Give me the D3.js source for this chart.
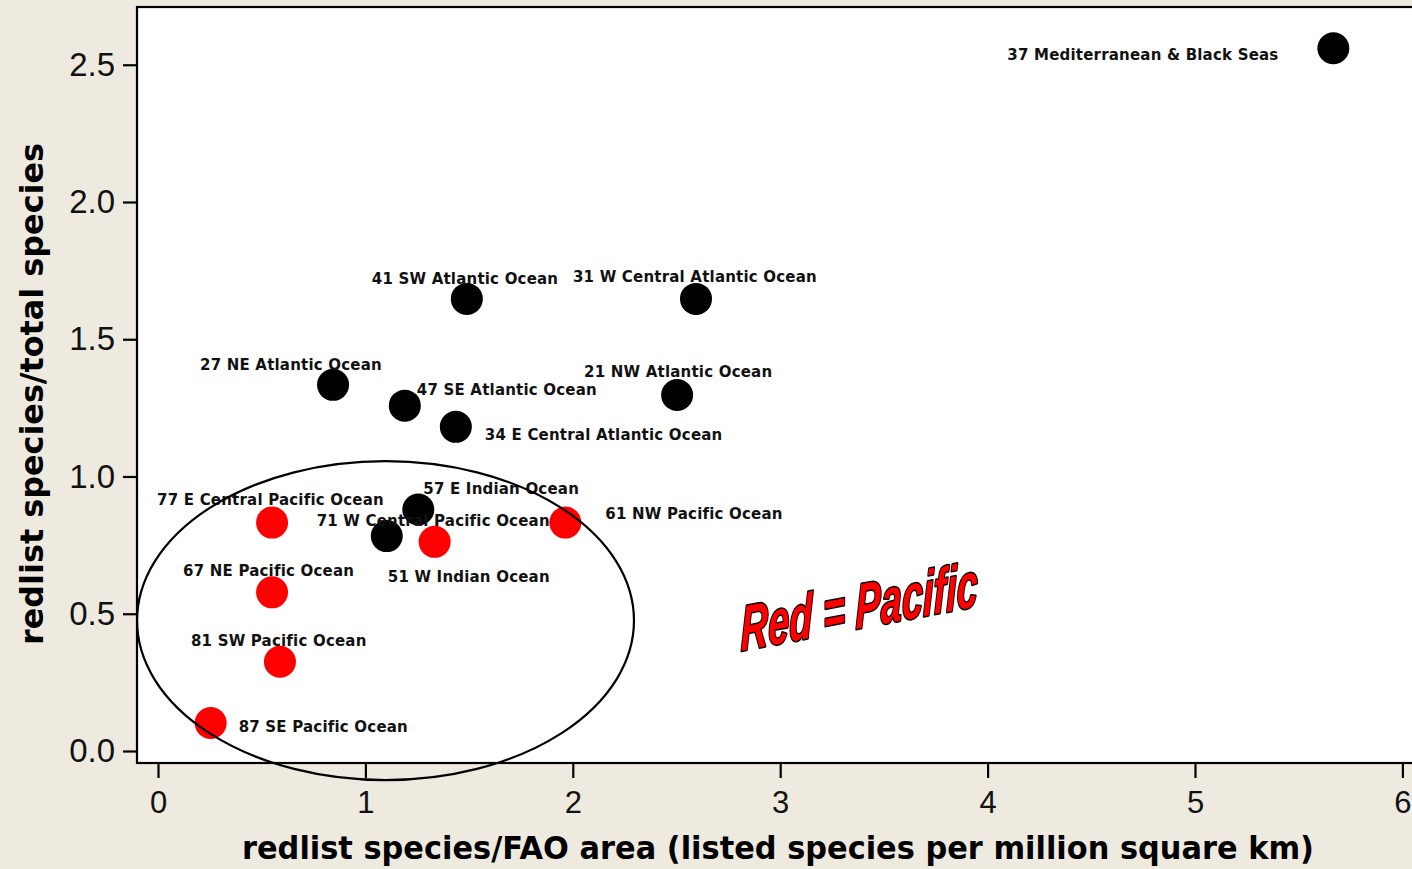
<!DOCTYPE html>
<html>
<head>
<meta charset="utf-8">
<script src="https://cdn.jsdelivr.net/npm/d3@7"></script>
<style>
  html, body { margin: 0; padding: 0; background: #eeeae0; }
  svg { display: block; }
</style>
</head>
<body>
<div id="chart"></div>
<script>
// FAO fishing areas: redlisted species per area vs share of total species
const areaNames = [
  '37 Mediterranean & Black Seas',
  '41 SW Atlantic Ocean',
  '31 W Central Atlantic Ocean',
  '27 NE Atlantic Ocean',
  '47 SE Atlantic Ocean',
  '21 NW Atlantic Ocean',
  '34 E Central Atlantic Ocean',
  '57 E Indian Ocean',
  '51 W Indian Ocean',
  '77 E Central Pacific Ocean',
  '71 W Central Pacific Ocean',
  '61 NW Pacific Ocean',
  '67 NE Pacific Ocean',
  '81 SW Pacific Ocean',
  '87 SE Pacific Ocean',
];
const speciesPerArea = [5.667, 1.489, 2.594, 0.844, 1.19, 2.503, 1.436, 1.255, 1.103, 0.55, 1.334, 1.964, 0.55, 0.588, 0.254];
const speciesRatio = [2.56, 1.647, 1.647, 1.334, 1.258, 1.297, 1.181, 0.88, 0.783, 0.832, 0.762, 0.832, 0.578, 0.325, 0.102];
const isPacific = [false, false, false, false, false, false, false, false, false, true, true, true, true, true, true];

const xTicks = [0, 1, 2, 3, 4, 5, 6];
const yTicks = [0, 0.5, 1, 1.5, 2, 2.5];

// label placement, pixels from the point centre (left edge, baseline)
const labelDx = [-326, -95, -123, -133, 12, -93, 29, 5, 1, -115, -118, 40, -89, -89, 28];
const labelDy = [12, -15, -17, -15, -11, -18, 13, -15, 46, -18, -16, -4, -16, -16, 9];

// Pacific cluster ellipse, in data units
const pacificEllipse = { cx: 1.097, cy: 0.475, rx: 1.198, ry: 0.581 };

const width = 1412;
const height = 869;
const frame = { left: 137, top: 7, right: 1420, bottom: 763 };

const x = d3.scaleLinear().domain([0, 6]).range([158, 1402.4]);
const y = d3.scaleLinear().domain([0, 2.5]).range([751, 64.75]);

const points = areaNames.map((name, i) => ({
  name,
  x: speciesPerArea[i],
  y: speciesRatio[i],
  pacific: isPacific[i],
  dx: labelDx[i],
  dy: labelDy[i],
}));

const svg = d3
  .select('#chart')
  .append('svg')
  .attr('width', width)
  .attr('height', height);

svg.append('rect').attr('width', width).attr('height', height).attr('fill', '#eeeae0');

// plot frame
svg
  .append('rect')
  .attr('x', frame.left)
  .attr('y', frame.top)
  .attr('width', frame.right - frame.left)
  .attr('height', frame.bottom - frame.top)
  .attr('fill', '#fff')
  .attr('stroke', '#000')
  .attr('stroke-width', 2.2);

// axes
const yAxis = svg
  .append('g')
  .attr('transform', `translate(${frame.left},0)`)
  .call(d3.axisLeft(y).tickValues(yTicks).tickFormat(d3.format('.1f')).tickSize(14).tickPadding(8));

const xAxis = svg
  .append('g')
  .attr('transform', `translate(0,${frame.bottom})`)
  .call(d3.axisBottom(x).tickValues(xTicks).tickFormat(d3.format('d')).tickSize(15).tickPadding(13));

[xAxis, yAxis].forEach((g) => {
  g.select('.domain').remove();
  g.selectAll('.tick line').attr('stroke', '#000').attr('stroke-width', 2.2);
  g.selectAll('.tick text')
    .attr('fill', '#111')
    .style('font-family', "'Liberation Sans', Arial, sans-serif");
});
yAxis.selectAll('.tick text').style('font-size', '33px');
xAxis.selectAll('.tick text').style('font-size', '31px');

// axis titles
svg
  .append('text')
  .attr('x', 242)
  .attr('y', 859)
  .attr('textLength', 1072)
  .attr('lengthAdjust', 'spacingAndGlyphs')
  .style('font-family', "'DejaVu Sans', sans-serif")
  .style('font-weight', 'bold')
  .style('font-size', '32px')
  .attr('fill', '#000')
  .text('redlist species/FAO area (listed species per million square km)');

svg
  .append('text')
  .attr('transform', 'translate(43,394) rotate(-90)')
  .attr('text-anchor', 'middle')
  .attr('textLength', 502)
  .attr('lengthAdjust', 'spacingAndGlyphs')
  .style('font-family', "'DejaVu Sans', sans-serif")
  .style('font-weight', 'bold')
  .style('font-size', '32px')
  .attr('fill', '#000')
  .text('redlist species/total species');

// points
const marks = svg.append('g');

marks
  .selectAll('circle')
  .data(points)
  .join('circle')
  .attr('cx', (d) => x(d.x))
  .attr('cy', (d) => y(d.y))
  .attr('r', 16)
  .attr('fill', (d) => (d.pacific ? '#ff0000' : '#000'));

marks
  .selectAll('text')
  .data(points)
  .join('text')
  .attr('x', (d) => x(d.x) + d.dx)
  .attr('y', (d) => y(d.y) + d.dy)
  .style('font-family', "'DejaVu Sans', sans-serif")
  .style('font-weight', 'bold')
  .style('font-size', '15px')
  .style('letter-spacing', '0.2px')
  .attr('fill', '#111')
  .text((d) => d.name);

// ellipse round the Pacific areas
svg
  .append('ellipse')
  .attr('cx', x(pacificEllipse.cx))
  .attr('cy', y(pacificEllipse.cy))
  .attr('rx', x(pacificEllipse.cx + pacificEllipse.rx) - x(pacificEllipse.cx))
  .attr('ry', y(pacificEllipse.cy) - y(pacificEllipse.cy + pacificEllipse.ry))
  .attr('fill', 'none')
  .attr('stroke', '#000')
  .attr('stroke-width', 2.2);

// "Red = Pacific" word-art note
svg
  .append('text')
  .attr('transform', `translate(${x(2.81)},${y(0.364)}) skewY(-10.8)`)
  .attr('textLength', 237)
  .attr('lengthAdjust', 'spacingAndGlyphs')
  .style('font-family', "'Liberation Sans', Arial, sans-serif")
  .style('font-weight', 'bold')
  .style('font-style', 'italic')
  .style('font-size', '64px')
  .style('paint-order', 'stroke')
  .attr('fill', '#ff0000')
  .attr('stroke', '#000')
  .attr('stroke-width', 3)
  .attr('stroke-linejoin', 'round')
  .text('Red = Pacific');
</script>
</body>
</html>
